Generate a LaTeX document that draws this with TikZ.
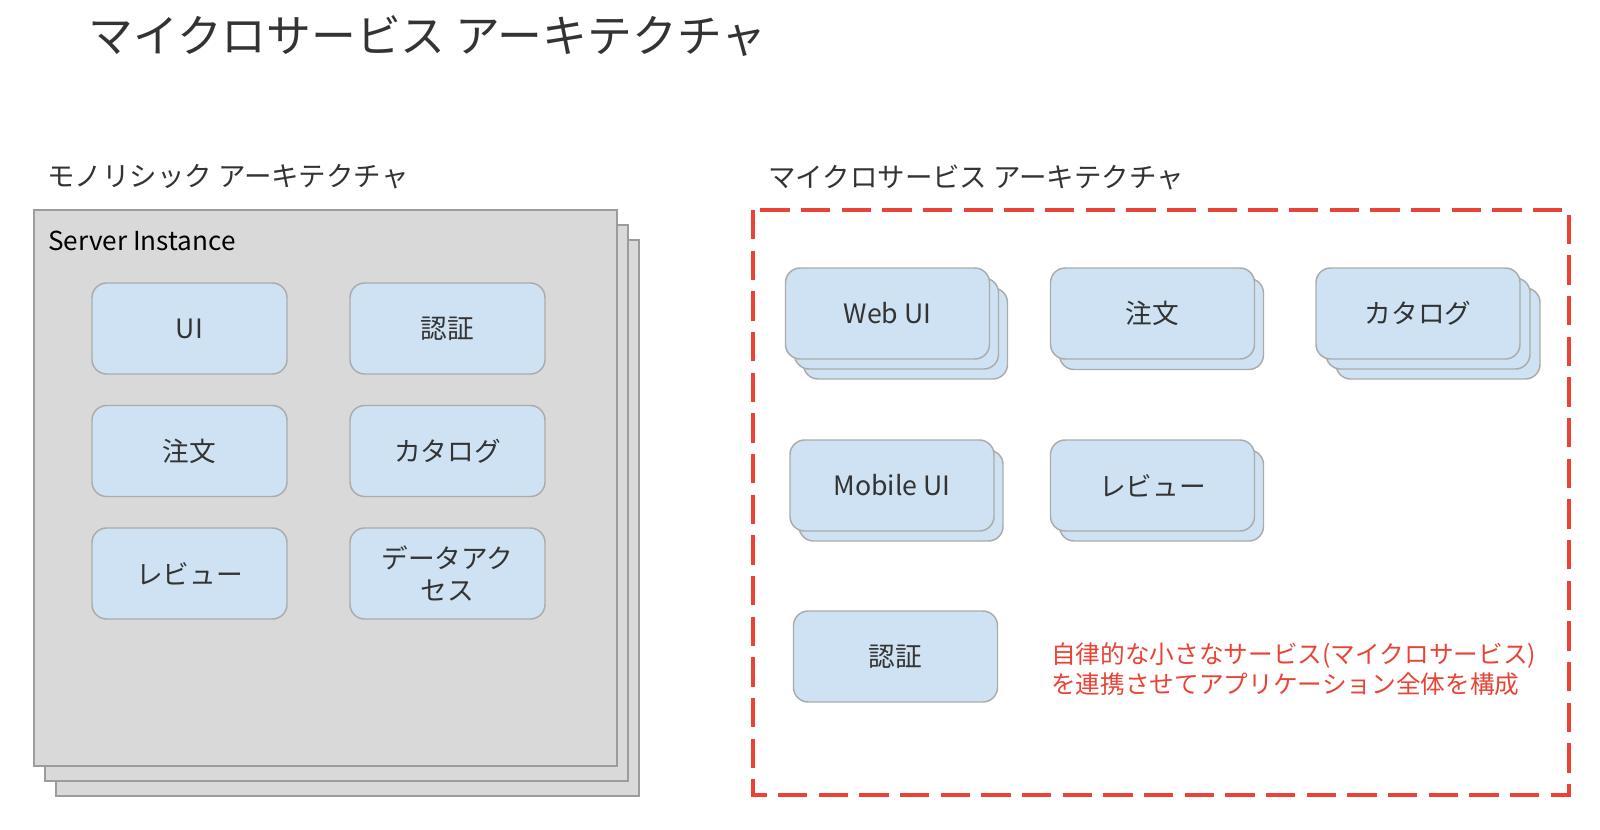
\documentclass[tikz,border=0pt]{standalone}
\usepackage{fontspec}
\setmainfont{Noto Sans CJK JP}
\usepackage{xcolor}
\definecolor{boxfill}{HTML}{CFE2F3}
\definecolor{boxline}{HTML}{ABABAB}
\definecolor{srvfill}{HTML}{D9D9D9}
\definecolor{srvline}{HTML}{9C9C9C}
\definecolor{accent}{HTML}{EA4335}
\definecolor{ink}{HTML}{333333}

\begin{document}
\begin{tikzpicture}[x=0.75pt,y=-0.75pt,
  svc/.style={draw=boxline,fill=boxfill,line width=1.1pt,rounded corners=11pt,
    minimum width=153pt,minimum height=68.25pt,inner sep=0pt,
    text=ink,align=center,font=\fontsize{20}{24}\selectfont},
  mono/.style={svc,minimum width=146.25pt},
  server/.style={draw=srvline,fill=srvfill,line width=1.1pt,
    minimum width=437.25pt,minimum height=417pt,inner sep=0pt},
  heading/.style={anchor=west,inner sep=0pt,text=ink,font=\fontsize{20.6}{24}\selectfont},
  frame/.style={draw=accent,line width=2.5pt,dash pattern=on 22pt off 8.5pt},
  note/.style={anchor=west,inner sep=0pt,align=left,text=accent,font=\fontsize{18.5}{22.5}\selectfont}]
\useasboundingbox (0,0) rectangle (1600,829);
% \draw[densely dotted] (0,0) grid[step=100] (1600,829);

\node[anchor=west,inner sep=0pt,text=ink,font=\fontsize{33.6}{40}\selectfont] (title) at (88,36) {マイクロサービス アーキテクチャ};

% monolith
\node[heading] (monohead) at (47,177) {モノリシック アーキテクチャ};
\foreach \k in {2,1}
  \node[server] (srv\k) at (325.5+11*\k,488+15*\k) {};
\node[server] (srv) at (325.5,488) {};
\node[anchor=west,inner sep=0pt,text=black,font=\fontsize{19.6}{24}\selectfont] (srvname) at (48,241) {Server Instance};
\node[mono] (mui) at (189.5,328.5) {UI};
\node[mono] (mauth) at (447.5,328.5) {認証};
\node[mono] (morder) at (189.5,451) {注文};
\node[mono] (mcat) at (447.5,451) {カタログ};
\node[mono] (mrev) at (189.5,573.5) {レビュー};
\node[mono] (mdata) at (447.5,573.5) {データアク\\セス};

% microservices
\node[heading] (microhead) at (768,177) {マイクロサービス アーキテクチャ};
\draw[frame] (753,210) rectangle (1569,795);
\foreach \k in {2,1} {
  \node[svc] (web\k) at (887.5+9*\k,313.5+10*\k) {};
  \node[svc] (cat\k) at (1418+10*\k,313.5+10*\k) {};
}
\node[svc] (order1) at (1161.5,324) {};
\node[svc] (mob1) at (901,495.5) {};
\node[svc] (rev1) at (1161.5,495.5) {};
\node[svc] (web) at (887.5,313.5) {Web UI};
\node[svc] (order) at (1152.5,313.5) {注文};
\node[svc] (cat) at (1418,313.5) {カタログ};
\node[svc] (mob) at (892,485.5) {Mobile UI};
\node[svc] (rev) at (1152.5,485.5) {レビュー};
\node[svc] (auth) at (895.5,656.5) {認証};
\node[note] (msg) at (1051,669) {自律的な小さなサービス(マイクロサービス)\\を連携させてアプリケーション全体を構成};
\end{tikzpicture}
\end{document}
